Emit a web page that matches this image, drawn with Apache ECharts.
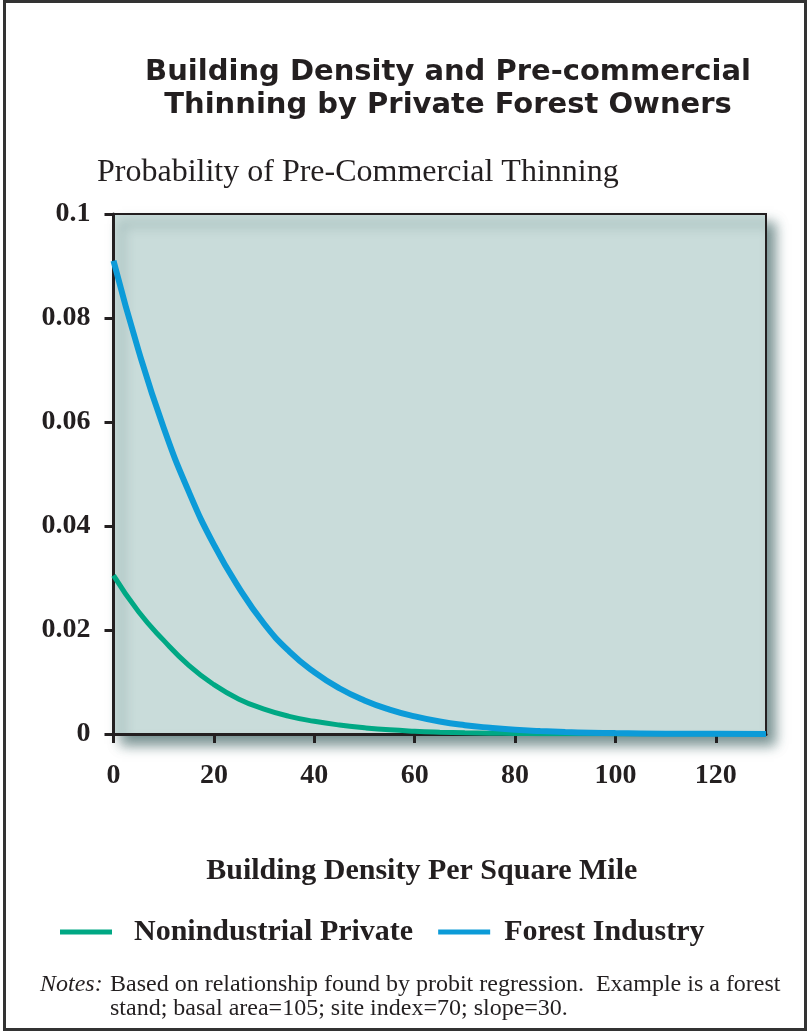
<!DOCTYPE html>
<html>
<head>
<meta charset="utf-8">
<script src="https://cdn.jsdelivr.net/npm/echarts@6/dist/echarts.min.js"></script>
<style>
html,body{margin:0;padding:0;background:#fff;}
#chart{width:808px;height:1034px;}
</style>
</head>
<body>
<div id="chart"></div>
<script>
// ---- data ----
var titleText = 'Building Density and Pre-commercial\nThinning by Private Forest Owners';
var yTitle = 'Probability of Pre-Commercial Thinning';
var xTitle = 'Building Density Per Square Mile';
var seriesNames = ['Nonindustrial Private', 'Forest Industry'];
var xTicks = [0, 20, 40, 60, 80, 100, 120];
var buildingDensity = [0, 5, 10, 15, 20, 25, 30, 35, 40, 45, 50, 55, 60, 65, 70, 75, 80, 85, 90, 95, 100, 110, 120, 130];
var nonindustrial = [0.0305, 0.0235, 0.0180, 0.0132, 0.0095, 0.0067, 0.0048, 0.0034, 0.00245, 0.00173, 0.0012, 0.0008, 0.00054, 0.00036, 0.00023, 0.00015, 0.0001, 0.00006, 0.00004, 0.00003, 0.00002, 0.00001, 0, 0];
var forestIndustry = [0.0910, 0.0737, 0.0589, 0.0466, 0.0364, 0.0281, 0.0212, 0.0159, 0.0119, 0.0088, 0.00646, 0.0047, 0.0034, 0.0024, 0.0017, 0.0012, 0.0008, 0.00056, 0.00038, 0.00026, 0.00017, 0.00007, 0.00003, 0.00001];
var notesLabel = 'Notes:';
var notesLine1 = 'Based on relationship found by probit regression.  Example is a forest';
var notesLine2 = 'stand; basal area=105; site index=70; slope=30.';

function pairs(xs, ys) { return xs.map(function (x, i) { return [x, ys[i]]; }); }

var ink = '#231f20';
var serif = '"Liberation Serif", "Times New Roman", serif';
var green = '#00a884';
var blue = '#0c9bd8';

var chart = echarts.init(document.getElementById('chart'), null, {renderer: 'canvas'});
chart.setOption({
  animation: false,
  backgroundColor: '#ffffff',
  title: {
    text: titleText,
    left: 443,
    top: 51,
    textAlign: 'center',
    textStyle: {fontFamily: '"DejaVu Sans", sans-serif', fontWeight: 'bold', fontSize: 29, lineHeight: 33, color: ink}
  },
  legend: {
    left: 55,
    top: 911,
    itemWidth: 52,
    itemHeight: 5,
    itemGap: 25,
    icon: 'rect',
    textStyle: {fontFamily: serif, fontWeight: 'bold', fontSize: 30, lineHeight: 32, color: ink},
    data: [
      {name: seriesNames[0], textStyle: {padding: [0, 0, 0, 17]}},
      {name: seriesNames[1], textStyle: {padding: [0, 0, 0, 9]}}
    ]
  },
  grid: {
    left: 113.5,
    right: 42,
    top: 214,
    bottom: 300,
    show: true,
    backgroundColor: '#c9dcda',
    borderColor: ink,
    borderWidth: 2,
    shadowColor: 'rgba(45,85,85,0.65)',
    shadowBlur: 12,
    shadowOffsetX: 8,
    shadowOffsetY: 10
  },
  graphic: [
    {type: 'rect', silent: true, z: 100, shape: {x: 4.5, y: 1.5, width: 801, height: 1028}, style: {fill: 'none', stroke: '#333', lineWidth: 3}},
    {type: 'text', left: 97, top: 157, style: {text: yTitle, font: '32px ' + serif, fill: ink}},
    {type: 'text', left: 40, top: 973, style: {text: notesLabel, font: 'italic 24px ' + serif, fill: ink}},
    {type: 'text', left: 110, top: 973, style: {text: notesLine1 + '\n' + notesLine2, font: '24px ' + serif, lineHeight: 24, fill: ink}}
  ],
  xAxis: {
    type: 'value',
    min: 0,
    max: 130,
    interval: 20,
    name: xTitle,
    nameLocation: 'middle',
    nameGap: 122,
    nameTextStyle: {fontFamily: serif, fontWeight: 'bold', fontSize: 30, color: ink, padding: [0, 36, 0, 0]},
    splitLine: {show: false},
    axisLine: {show: true, onZero: false, lineStyle: {color: ink, width: 3}},
    axisTick: {show: true, length: 9, customValues: xTicks, lineStyle: {color: ink, width: 3}},
    axisLabel: {customValues: xTicks, margin: 28, fontFamily: serif, fontWeight: 'bold', fontSize: 28, color: ink}
  },
  yAxis: {
    type: 'value',
    min: 0,
    max: 0.1,
    interval: 0.02,
    splitLine: {show: false},
    axisLine: {show: true, lineStyle: {color: ink, width: 3}},
    axisTick: {show: true, length: 9, lineStyle: {color: ink, width: 3}},
    axisLabel: {margin: 23, fontFamily: serif, fontWeight: 'bold', fontSize: 28, color: ink}
  },
  series: [
    {
      name: seriesNames[0], type: 'line', smooth: true, showSymbol: false,
      data: pairs(buildingDensity, nonindustrial),
      itemStyle: {color: green},
      lineStyle: {color: green, width: 5}
    },
    {
      name: seriesNames[1], type: 'line', smooth: true, showSymbol: false,
      data: pairs(buildingDensity, forestIndustry),
      itemStyle: {color: blue},
      lineStyle: {color: blue, width: 6}
    }
  ]
});
</script>
</body>
</html>
